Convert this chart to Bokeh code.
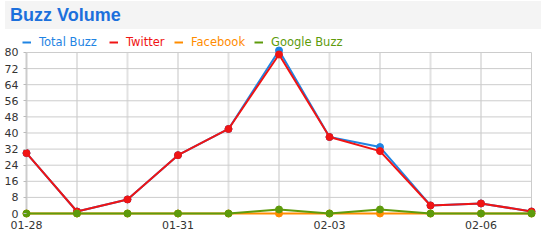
from bokeh.plotting import figure
from bokeh.models import Range1d, FixedTicker, Legend, LegendItem, ColumnDataSource, Div
from bokeh.layouts import column
from bokeh.embed import file_html
from bokeh.resources import INLINE

# ---- data ----
days = ["01-28", "01-29", "01-30", "01-31", "02-01", "02-02", "02-03", "02-04", "02-05", "02-06", "02-07"]
total_buzz = [30, 1, 7, 29, 42, 81, 38, 33, 4, 5, 1]
twitter = [30, 1, 7, 29, 42, 79, 38, 31, 4, 5, 1]
facebook = [0, 0, 0, 0, 0, 0, 0, 0, 0, 0, 0]
google_buzz = [0, 0, 0, 0, 0, 2, 0, 2, 0, 0, 0]
x_tick_labels = ["01-28", "01-31", "02-03", "02-06"]
y_ticks = [0, 8, 16, 24, 32, 40, 48, 56, 64, 72, 80]
title_text = "Buzz Volume"

series = [
    ("Total Buzz", total_buzz, "#1f84e3"),
    ("Twitter", twitter, "#f01414"),
    ("Facebook", facebook, "#ff8c00"),
    ("Google Buzz", google_buzz, "#5e9b0c"),
]

xs = list(range(len(days)))
n_last = len(days) - 1
y_min, y_max = y_ticks[0], y_ticks[-1]
FONT = "DejaVu Sans"

# ---- header bar ----
head = Div(text=title_text, width=536, height=28, margin=(1, 0, 0, 5),
           styles={"background-color": "#f4f4f4", "color": "#1c70dc",
                   "font-family": "'Liberation Sans', Arial, sans-serif",
                   "font-weight": "bold", "font-size": "18px",
                   "line-height": "28px", "padding-left": "5px",
                   "box-sizing": "border-box", "overflow": "hidden"})

# ---- main chart ----
p = figure(width=541, height=212,
           x_range=Range1d(-0.099, n_last + 0.099), y_range=Range1d(-2.98, 88.94),
           output_backend="svg", toolbar_location=None,
           min_border_left=21, min_border_right=5, min_border_top=5, min_border_bottom=22,
           outline_line_color=None, background_fill_color="white", border_fill_color="white")
p.grid.visible = False

p.yaxis.ticker = FixedTicker(ticks=y_ticks)
p.yaxis.axis_line_color = None
p.yaxis.major_tick_line_color = "#bbbbbb"
p.yaxis.major_tick_in = 5
p.yaxis.major_tick_out = -2
p.yaxis.minor_tick_line_color = None
p.yaxis.major_label_standoff = 3
p.yaxis.major_label_text_font = FONT
p.yaxis.major_label_text_font_size = "11px"
p.yaxis.major_label_text_color = "#333333"

label_pos = [days.index(d) for d in x_tick_labels]
p.xaxis.ticker = FixedTicker(ticks=label_pos)
p.xaxis.major_label_overrides = {i: d for i, d in zip(label_pos, x_tick_labels)}
p.xaxis.axis_line_color = None
p.xaxis.major_tick_line_color = None
p.xaxis.minor_tick_line_color = None
p.xaxis.major_tick_out = 0
p.xaxis.major_tick_in = 0
p.xaxis.major_label_standoff = 1
p.xaxis.major_label_text_font = FONT
p.xaxis.major_label_text_font_size = "11px"
p.xaxis.major_label_text_color = "#333333"

# grid lines limited to the data area
inner = xs[1:-1]
p.segment(x0=inner, x1=inner, y0=[y_min] * len(inner), y1=[y_max] * len(inner),
          line_color="#e2e2e2", line_width=2)
p.segment(x0=[xs[0]] * len(y_ticks), x1=[n_last] * len(y_ticks), y0=y_ticks, y1=y_ticks,
          line_color="#cccccc", line_width=1)
p.segment(x0=[n_last], x1=[n_last], y0=[y_min], y1=[y_max], line_color="#cccccc", line_width=1)
p.segment(x0=[xs[0]], x1=[xs[0]], y0=[y_min], y1=[y_max], line_color="#cccccc", line_width=2)

legend_x = [1, 88, 153, 233]
for (name, vals, color), lx in zip(series, legend_x):
    src = ColumnDataSource(dict(x=xs, y=vals))
    lr = p.line("x", "y", source=src, line_color=color, line_width=2)
    p.scatter("x", "y", source=src, size=7, fill_color=color, line_color=color)
    lg = Legend(items=[LegendItem(label=name, renderers=[lr])], location=(lx, 170),
                orientation="horizontal", padding=0, margin=0, spacing=0,
                glyph_width=9, glyph_height=12, label_height=12, label_standoff=8,
                label_text_font=FONT, label_text_font_size="11.5px", label_text_color=color,
                label_text_baseline="middle",
                background_fill_alpha=0, border_line_alpha=0)
    p.add_layout(lg, "center")

layout = column(head, p, spacing=0)
open("out.html", "w").write(file_html(layout, INLINE))
